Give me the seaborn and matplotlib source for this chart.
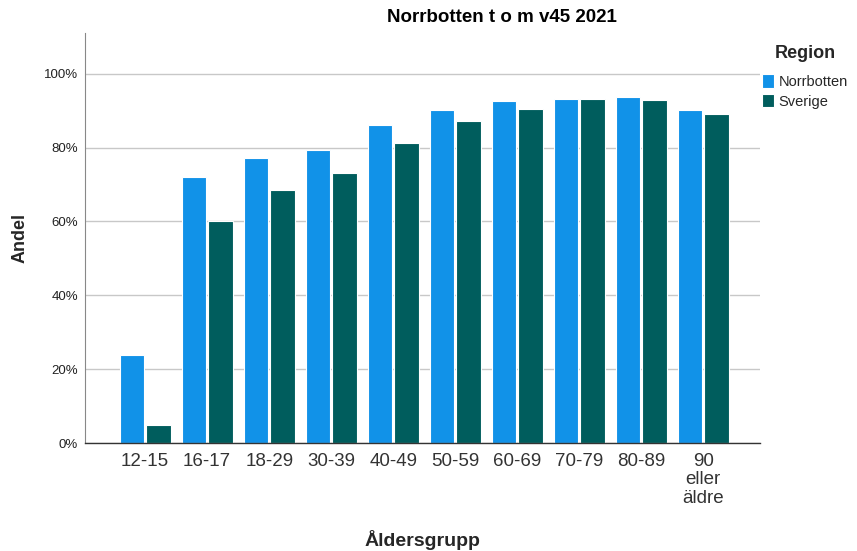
import matplotlib
matplotlib.use("Agg")
import matplotlib.pyplot as plt
import seaborn as sns
import pandas as pd
from matplotlib.ticker import FuncFormatter

categories = ["12-15", "16-17", "18-29", "30-39", "40-49", "50-59", "60-69", "70-79", "80-89", "90\neller\näldre"]
norrbotten = [23.7, 72.1, 77.2, 79.3, 86.1, 90.3, 92.5, 93.2, 93.8, 90.2]
sverige = [5.0, 60.0, 68.5, 73.0, 81.3, 87.1, 90.4, 93.2, 93.0, 89.0]
regions = ["Norrbotten", "Sverige"]
colors = ["#1192E8", "#005D5D"]

df = pd.DataFrame({
    "Åldersgrupp": categories * 2,
    "Andel": norrbotten + sverige,
    "Region": [regions[0]] * len(categories) + [regions[1]] * len(categories),
})

sns.set_style("white")
plt.rcParams["font.family"] = ["Liberation Sans", "DejaVu Sans"]

fig = plt.figure(figsize=(8.57, 5.51), dpi=100)
ax = fig.add_axes([0.0992, 0.196, 0.788, 0.744])

sns.barplot(data=df, x="Åldersgrupp", y="Andel", hue="Region", palette=colors,
            order=categories, hue_order=regions, width=0.86, gap=0.08,
            saturation=1, edgecolor="white", linewidth=0.8, ax=ax, legend=True)

ax.set_ylim(0, 111)
ax.set_xlim(-0.97, 9.92)
ax.set_yticks([0, 20, 40, 60, 80, 100])
ax.yaxis.set_major_formatter(FuncFormatter(lambda v, p: f"{int(v)}%"))
ax.grid(axis="y", color="#C8C8C8", linewidth=1.0)
ax.set_axisbelow(True)
for s in ["top", "right"]:
    ax.spines[s].set_visible(False)
ax.spines["left"].set_color("#888888")
ax.spines["left"].set_linewidth(0.8)
ax.spines["bottom"].set_color("#333333")
ax.spines["bottom"].set_linewidth(1.0)
ax.tick_params(axis="y", labelsize=9.5, length=0, pad=5, colors="#222222")
ax.tick_params(axis="x", labelsize=13.5, length=0, pad=7, colors="#333333")
for t in ax.get_xticklabels():
    t.set_linespacing(1.12)

ax.set_xlabel("Åldersgrupp", fontsize=14, fontweight="bold")
ax.set_ylabel("Andel", fontsize=13, fontweight="bold")
ax.xaxis.set_label_coords(0.5, -0.237)
ax.yaxis.set_label_coords(-0.096, 0.5)
ax.xaxis.label.set_va("center")
ax.yaxis.label.set_va("center")
fig.text(502 / 857, 1 - 18 / 551, "Norrbotten t o m v45 2021", fontsize=13.5,
         fontweight="bold", ha="center", va="center", color="#000000")

leg = ax.legend(title="Region", loc="upper left", bbox_to_anchor=(762 / 857, 1 - 45 / 551),
                bbox_transform=fig.transFigure,
                frameon=False, fontsize=10.5, title_fontproperties={"weight": "bold", "size": 13},
                handlelength=0.85, handleheight=1.0, handletextpad=0.3, labelspacing=0.37,
                borderaxespad=0, borderpad=0)
leg._legend_box.align = "center"
leg._legend_box.sep = 9

fig.savefig("out.png", dpi=100)
